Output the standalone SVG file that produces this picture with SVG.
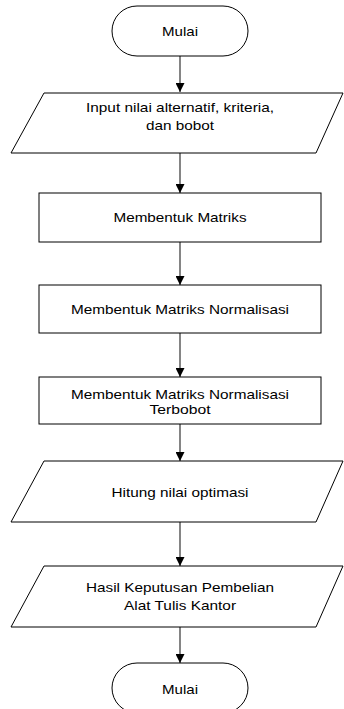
<svg xmlns="http://www.w3.org/2000/svg" width="344" height="709" viewBox="0 0 344 709">
<style>
.shape{fill:#fff;stroke:#000;stroke-width:1}
.lbl{font-family:"Liberation Sans",Arial,sans-serif;font-size:13px;fill:#000;text-anchor:middle}
.conn{stroke:#333;stroke-width:1.2;fill:none}
</style>
<defs>
<marker id="arr" viewBox="0 0 10 10" refX="10" refY="5" markerWidth="9" markerHeight="9" markerUnits="userSpaceOnUse" orient="auto">
<path d="M0,0 L10,5 L0,10 z" fill="#000"/>
</marker>
</defs>
<rect width="344" height="709" fill="#fff"/>
<g id="connectors">
<line class="conn" x1="180" y1="56" x2="180" y2="92" marker-end="url(#arr)"/>
<line class="conn" x1="180" y1="153" x2="180" y2="193" marker-end="url(#arr)"/>
<line class="conn" x1="180" y1="242" x2="180" y2="285" marker-end="url(#arr)"/>
<line class="conn" x1="180" y1="333" x2="180" y2="377" marker-end="url(#arr)"/>
<line class="conn" x1="180" y1="424" x2="180" y2="461" marker-end="url(#arr)"/>
<line class="conn" x1="180" y1="522" x2="180" y2="566" marker-end="url(#arr)"/>
<line class="conn" x1="180" y1="627" x2="180" y2="663" marker-end="url(#arr)"/>
</g>
<g id="start">
<rect class="shape" x="112" y="6" width="136" height="50" rx="25" ry="25"/>
<text class="lbl" x="180" y="36" textLength="36" lengthAdjust="spacingAndGlyphs">Mulai</text>
</g>
<g id="input">
<polygon class="shape" points="44,93 343,93 316,153 11,153"/>
<text class="lbl" x="180" y="112" textLength="188" lengthAdjust="spacingAndGlyphs">Input nilai alternatif, kriteria,</text>
<text class="lbl" x="180" y="130" textLength="68" lengthAdjust="spacingAndGlyphs">dan bobot</text>
</g>
<g id="matriks">
<rect class="shape" x="39" y="193" width="282" height="49"/>
<text class="lbl" x="180" y="222" textLength="133" lengthAdjust="spacingAndGlyphs">Membentuk Matriks</text>
</g>
<g id="normalisasi">
<rect class="shape" x="39" y="285" width="282" height="48"/>
<text class="lbl" x="180" y="314" textLength="218" lengthAdjust="spacingAndGlyphs">Membentuk Matriks Normalisasi</text>
</g>
<g id="terbobot">
<rect class="shape" x="39" y="377" width="282" height="47"/>
<text class="lbl" x="180" y="398.5" textLength="218" lengthAdjust="spacingAndGlyphs">Membentuk Matriks Normalisasi</text>
<text class="lbl" x="180" y="413.5" textLength="61" lengthAdjust="spacingAndGlyphs">Terbobot</text>
</g>
<g id="optimasi">
<polygon class="shape" points="44,461 343,461 316,522 11,522"/>
<text class="lbl" x="180" y="497" textLength="137" lengthAdjust="spacingAndGlyphs">Hitung nilai optimasi</text>
</g>
<g id="hasil">
<polygon class="shape" points="44,566 343,566 316,627 11,627"/>
<text class="lbl" x="180" y="592" textLength="188" lengthAdjust="spacingAndGlyphs">Hasil Keputusan Pembelian</text>
<text class="lbl" x="180" y="610" textLength="112" lengthAdjust="spacingAndGlyphs">Alat Tulis Kantor</text>
</g>
<g id="end">
<rect class="shape" x="112" y="663" width="136" height="50" rx="25" ry="25"/>
<text class="lbl" x="180" y="694" textLength="36" lengthAdjust="spacingAndGlyphs">Mulai</text>
</g>
</svg>
